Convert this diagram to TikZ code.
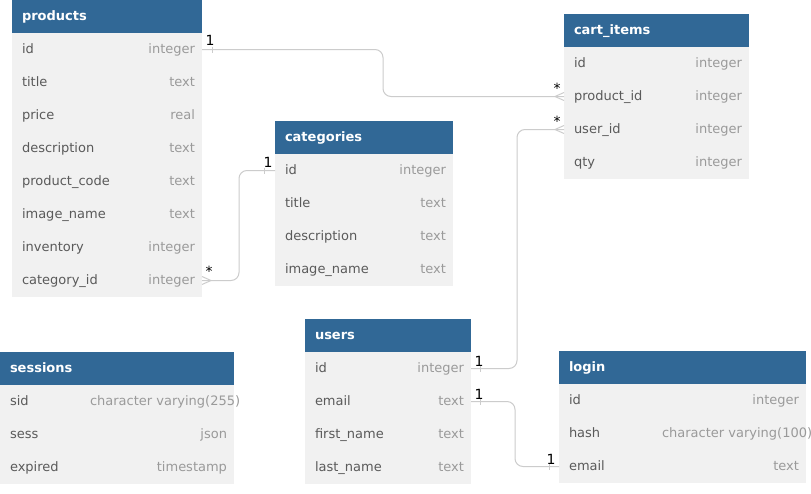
\documentclass[tikz,border=0pt]{standalone}
\usepackage{fontspec}
\setmainfont{DejaVu Sans}
\definecolor{hdrblue}{HTML}{316896}
\definecolor{rowgray}{HTML}{F1F1F1}
\definecolor{fieldgray}{HTML}{5A5A5A}
\definecolor{typegray}{HTML}{9A9A9A}
\definecolor{linegray}{HTML}{CCCCCC}
\tikzset{
  txt/.style={inner sep=0pt, outer sep=0pt, text height=9.5pt, text depth=2.5pt, font=\fontsize{13pt}{15pt}\selectfont},
  hdr/.style={fill=hdrblue, draw=none, minimum height=33pt, inner sep=0pt, outer sep=0pt, anchor=north west},
  rowbox/.style={fill=rowgray, draw=none, minimum height=33pt, inner sep=0pt, outer sep=0pt, anchor=north west},
  hdrtext/.style={txt, anchor=west, text=white, font=\fontsize{13pt}{15pt}\selectfont\bfseries},
  fieldtext/.style={txt, anchor=west, text=fieldgray},
  typetext/.style={txt, anchor=east, text=typegray},
  typetextl/.style={txt, anchor=west, text=typegray},
  sep/.style={draw=white, line width=1pt},
  rel/.style={draw=linegray, line width=1pt, rounded corners=8pt},
  endmark/.style={draw=linegray, line width=1pt},
  lbl/.style={inner sep=0pt, text=black, font=\fontsize{14pt}{16pt}\selectfont},
}
\newcommand\erhead[5]{%
  \node[hdr, minimum width=#4pt] (#1) at (#2,#3) {};
  \node[hdrtext] at ([xshift=10pt]#1.west) {#5};
}
\newcommand\errow[5]{%
  \node[rowbox, minimum width=#3pt] (#1) at (#2.south west) {};
  \draw[sep] (#1.south west) -- (#1.south east);
  \node[fieldtext] at ([xshift=10pt]#1.west) {#4};
  \node[typetext] at ([xshift=-7pt]#1.east) {#5};
}
\newcommand\errowl[6]{%
  \node[rowbox, minimum width=#3pt] (#1) at (#2.south west) {};
  \draw[sep] (#1.south west) -- (#1.south east);
  \node[fieldtext] at ([xshift=10pt]#1.west) {#4};
  \node[typetextl] at ([xshift=#6pt]#1.west) {#5};
}
\newcommand\crowW[1]{%
  \draw[endmark] ([xshift=-9pt]#1.west) -- ([yshift=4pt]#1.west)
                 ([xshift=-9pt]#1.west) -- ([yshift=-4pt]#1.west);
}
\newcommand\crowE[1]{%
  \draw[endmark] ([xshift=9pt]#1.east) -- ([yshift=4pt]#1.east)
                 ([xshift=9pt]#1.east) -- ([yshift=-4pt]#1.east);
}
\newcommand\tickE[2]{%
  \draw[endmark] ([shift={(#2,-3)}]#1.east) -- ([shift={(#2,3)}]#1.east);
}
\newcommand\tickW[2]{%
  \draw[endmark] ([shift={(-#2,-3)}]#1.west) -- ([shift={(-#2,3)}]#1.west);
}
\begin{document}
\begin{tikzpicture}[x=1pt,y=-1pt]
\useasboundingbox (0,0) rectangle (811,493);
\fill[white] (0,0) rectangle (811,493);

% products
\erhead{p}{12}{0}{190}{products}
\errow{p-id}{p}{190}{id}{integer}
\errow{p-title}{p-id}{190}{title}{text}
\errow{p-price}{p-title}{190}{price}{real}
\errow{p-desc}{p-price}{190}{description}{text}
\errow{p-code}{p-desc}{190}{product\_code}{text}
\errow{p-img}{p-code}{190}{image\_name}{text}
\errow{p-inv}{p-img}{190}{inventory}{integer}
\errow{p-cat}{p-inv}{190}{category\_id}{integer}

% cart_items
\erhead{c}{564}{14}{185}{cart\_items}
\errow{c-id}{c}{185}{id}{integer}
\errow{c-pid}{c-id}{185}{product\_id}{integer}
\errow{c-uid}{c-pid}{185}{user\_id}{integer}
\errow{c-qty}{c-uid}{185}{qty}{integer}

% categories
\erhead{cat}{275}{121}{178}{categories}
\errow{cat-id}{cat}{178}{id}{integer}
\errow{cat-title}{cat-id}{178}{title}{text}
\errow{cat-desc}{cat-title}{178}{description}{text}
\errow{cat-img}{cat-desc}{178}{image\_name}{text}

% sessions
\erhead{s}{0}{352}{234}{sessions}
\errowl{s-sid}{s}{234}{sid}{character varying(255)}{90}
\errow{s-sess}{s-sid}{234}{sess}{json}
\errow{s-exp}{s-sess}{234}{expired}{timestamp}

% users
\erhead{u}{305}{319}{166}{users}
\errow{u-id}{u}{166}{id}{integer}
\errow{u-email}{u-id}{166}{email}{text}
\errow{u-first}{u-email}{166}{first\_name}{text}
\errow{u-last}{u-first}{166}{last\_name}{text}

% login
\erhead{l}{559}{351}{247}{login}
\errow{l-id}{l}{247}{id}{integer}
\errowl{l-hash}{l-id}{247}{hash}{character varying(100)}{103}
\errow{l-email}{l-hash}{247}{email}{text}

% relations
\draw[rel] (p-id.east) -- ++(181,0) |- (c-pid.west);
\draw[rel] (u-id.east) -- ++(46,0) |- (c-uid.west);
\draw[rel] (p-cat.east) -- ++(37,0) |- (cat-id.west);
\draw[rel] (u-email.east) -- ++(44,0) |- (l-email.west);

\tickE{p-id}{10}
\tickE{u-id}{9}
\tickE{u-email}{9}
\tickW{cat-id}{11}
\tickW{l-email}{10}
\crowW{c-pid}
\crowW{c-uid}
\crowE{p-cat}

\node[lbl] at ([shift={(8,-9)}]p-id.east) {1};
\node[lbl] at ([shift={(-7,-8)}]c-pid.west) {*};
\node[lbl] at ([shift={(-7,-8)}]c-uid.west) {*};
\node[lbl] at ([shift={(8,-7)}]u-id.east) {1};
\node[lbl] at ([shift={(7,-9)}]p-cat.east) {*};
\node[lbl] at ([shift={(-7,-8)}]cat-id.west) {1};
\node[lbl] at ([shift={(8,-7)}]u-email.east) {1};
\node[lbl] at ([shift={(-8,-7)}]l-email.west) {1};
\end{tikzpicture}
\end{document}
